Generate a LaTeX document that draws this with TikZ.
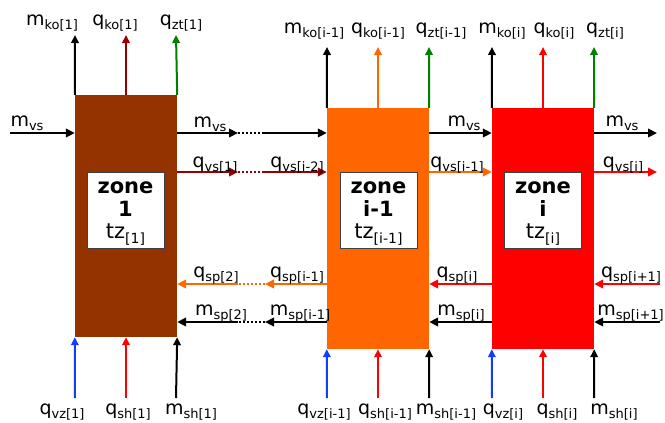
\documentclass[tikz,border=0pt]{standalone}
\usepackage{fontspec}
\setmainfont{DejaVu Sans}
\usetikzlibrary{arrows.meta}
\definecolor{zbrown}{RGB}{148,50,0}
\definecolor{zorange}{RGB}{255,102,0}
\definecolor{zred}{RGB}{255,0,0}
\definecolor{dred}{RGB}{150,0,0}
\definecolor{zgreen}{RGB}{0,128,0}
\definecolor{zblue}{RGB}{20,60,255}
\newcommand{\lbl}[2]{#1\raisebox{-4pt}{\fontsize{13}{13}\selectfont #2}}
\begin{document}
\begin{tikzpicture}[x=1pt,y=-1pt,
  lab/.style={anchor=base, font=\fontsize{19}{19}\selectfont, inner sep=0pt},
  zone/.style={rectangle, minimum width=102pt, inner sep=0pt},
  inbox/.style={rectangle, draw=black!75, line width=0.8pt, fill=white, minimum width=77pt, minimum height=76pt, inner sep=0pt},
  ztext/.style={align=center, font=\fontsize{21}{22.5}\selectfont, inner sep=0pt},
  varr/.style={-{Triangle[length=8pt,width=7.5pt]}, line width=2pt},
  harr/.style={-{Triangle[length=9pt,width=8.5pt]}, line width=2.6pt},
  dots/.style={line width=2.6pt, dash pattern=on 2pt off 2pt},
]
\fill[white] (0,0) rectangle (665,423);
\useasboundingbox (0,0) rectangle (665,423);

% zones
\node[zone, fill=zbrown, minimum height=242pt] (z1) at (126,216) {};
\node[zone, fill=zorange, minimum height=241pt] (z2) at (378,228.5) {};
\node[zone, fill=zred, minimum height=241pt] (z3) at (543,228.5) {};

\node[inbox] (b1) at (125.5,210) {};
\node[inbox] (b2) at (378.5,210) {};
\node[inbox] (b3) at (543,210) {};
\node[ztext] (t1) at (125.5,214) {\textbf{zone}\\\textbf{1}\\tz\raisebox{-5pt}{\fontsize{14}{14}\selectfont [1]}};
\node[ztext] (t2) at (378.5,214) {\textbf{zone}\\\textbf{i-1}\\tz\raisebox{-5pt}{\fontsize{14}{14}\selectfont [i-1]}};
\node[ztext] (t3) at (543,214) {\textbf{zone}\\\textbf{i}\\tz\raisebox{-5pt}{\fontsize{14}{14}\selectfont [i]}};

% top arrow tips
\coordinate (u1a) at (75,35);  \coordinate (u1b) at (126,35);  \coordinate (u1c) at (176,35);
\coordinate (u2a) at (327,47); \coordinate (u2b) at (378,47);  \coordinate (u2c) at (429,47);
\coordinate (u3a) at (492,47); \coordinate (u3b) at (543,47);  \coordinate (u3c) at (594,47);
\draw[varr] (z1.north west) -- (u1a);
\draw[varr, dred] (z1.north) -- (u1b);
\draw[varr, zgreen] (z1.north east) -- (u1c);
\draw[varr] (z2.north west) -- (u2a);
\draw[varr, zorange] (z2.north) -- (u2b);
\draw[varr, zgreen] (z2.north east) -- (u2c);
\draw[varr] (z3.north west) -- (u3a);
\draw[varr, zred] (z3.north) -- (u3b);
\draw[varr, zgreen] (z3.north east) -- (u3c);

% bottom arrow tails
\coordinate (d1a) at (75,398);  \coordinate (d1b) at (126,398);  \coordinate (d1c) at (176,398);
\coordinate (d2a) at (327,398); \coordinate (d2b) at (378,398);  \coordinate (d2c) at (429,398);
\coordinate (d3a) at (492,398); \coordinate (d3b) at (543,398);  \coordinate (d3c) at (594,398);
\draw[varr, zblue] (d1a) -- (z1.south west);
\draw[varr, zred] (d1b) -- (z1.south);
\draw[varr] (d1c) -- (z1.south east);
\draw[varr, zblue] (d2a) -- (z2.south west);
\draw[varr, zred] (d2b) -- (z2.south);
\draw[varr] (d2c) -- (z2.south east);
\draw[varr, zblue] (d3a) -- (z3.south west);
\draw[varr, zred] (d3b) -- (z3.south);
\draw[varr] (d3c) -- (z3.south east);

% horizontal rows
\coordinate (mvin) at (10,133);
\coordinate (m1a) at (238,133); \coordinate (m1b) at (264,133);
\coordinate (q1a) at (238,172); \coordinate (q1b) at (264,172);
\coordinate (mvout) at (657,133);
\coordinate (qvout) at (657,172);
\coordinate (s1a) at (238,284); \coordinate (s1b) at (265,284);
\coordinate (p1a) at (238,322); \coordinate (p1b) at (265,322);
\coordinate (sin) at (660,284);
\coordinate (pin) at (660,322);

\draw[harr] (mvin) -- (mvin -| z1.west);
\draw[harr] (m1a -| z1.east) -- (m1a);
\draw[dots] (m1a) -- (m1b);
\draw[harr] (m1b) -- (m1b -| z2.west);
\draw[harr, dred] (q1a -| z1.east) -- (q1a);
\draw[dots, dred] (q1a) -- (q1b);
\draw[harr, dred] (q1b) -- (q1b -| z2.west);
\draw[harr] (m1a -| z2.east) -- (m1a -| z3.west);
\draw[harr, zorange] (q1a -| z2.east) -- (q1a -| z3.west);
\draw[harr] (mvout -| z3.east) -- (mvout);
\draw[harr, zred] (qvout -| z3.east) -- (qvout);

\draw[harr, zorange] (s1b -| z2.west) -- (s1b);
\draw[dots, zorange] (s1b) -- (s1a);
\draw[harr, zorange] (s1a) -- (s1a -| z1.east);
\draw[harr] (p1b -| z2.west) -- (p1b);
\draw[dots] (p1b) -- (p1a);
\draw[harr] (p1a) -- (p1a -| z1.east);
\draw[harr, zred] (s1a -| z3.west) -- (s1a -| z2.east);
\draw[harr] (p1a -| z3.west) -- (p1a -| z2.east);
\draw[harr, zred] (sin) -- (sin -| z3.east);
\draw[harr] (pin) -- (pin -| z3.east);

% labels top
\node[lab] (l1) at (52,25) {\lbl{m}{ko[1]}};
\node[lab] (l2) at (115,25) {\lbl{q}{ko[1]}};
\node[lab] (l3) at (181,25) {\lbl{q}{zt[1]}};
\node[lab] (l4) at (314,34) {\lbl{m}{ko[i-1]}};
\node[lab] (l5) at (378,34) {\lbl{q}{ko[i-1]}};
\node[lab] (l6) at (441,34) {\lbl{q}{zt[i-1]}};
\node[lab] (l7) at (502,34) {\lbl{m}{ko[i]}};
\node[lab] (l8) at (554,34) {\lbl{q}{ko[i]}};
\node[lab] (l9) at (605,34) {\lbl{q}{zt[i]}};

% labels middle
\node[lab] (h1) at (27,126) {\lbl{m}{vs}};
\node[lab] (h2) at (210,127) {\lbl{m}{vs}};
\node[lab] (h3) at (215,167) {\lbl{q}{vs[1]}};
\node[lab] (h4) at (297,167) {\lbl{q}{vs[i-2]}};
\node[lab] (h5) at (464,126) {\lbl{m}{vs}};
\node[lab] (h6) at (457,167) {\lbl{q}{vs[i-1]}};
\node[lab] (h7) at (622,126) {\lbl{m}{vs}};
\node[lab] (h8) at (623,167) {\lbl{q}{vs[i]}};

\node[lab] (s1) at (216,277) {\lbl{q}{sp[2]}};
\node[lab] (s2) at (297,277) {\lbl{q}{sp[i-1]}};
\node[lab] (s3) at (221,315) {\lbl{m}{sp[2]}};
\node[lab] (s4) at (300,315) {\lbl{m}{sp[i-1]}};
\node[lab] (s5) at (457,277) {\lbl{q}{sp[i]}};
\node[lab] (s6) at (461,315) {\lbl{m}{sp[i]}};
\node[lab] (s7) at (631,277) {\lbl{q}{sp[i+1]}};
\node[lab, anchor=base east] (s8) at (664,315) {\lbl{m}{sp[i+1]}};

% labels bottom
\node[lab] (g1) at (62,414) {\lbl{q}{vz[1]}};
\node[lab] (g2) at (128,414) {\lbl{q}{sh[1]}};
\node[lab] (g3) at (191,414) {\lbl{m}{sh[1]}};
\node[lab] (g4) at (324,414) {\lbl{q}{vz[i-1]}};
\node[lab] (g5) at (385,414) {\lbl{q}{sh[i-1]}};
\node[lab] (g6) at (446,414) {\lbl{m}{sh[i-1]}};
\node[lab] (g7) at (503,414) {\lbl{q}{vz[i]}};
\node[lab] (g8) at (557,414) {\lbl{q}{sh[i]}};
\node[lab] (g9) at (614,414) {\lbl{m}{sh[i]}};
\end{tikzpicture}
\end{document}
